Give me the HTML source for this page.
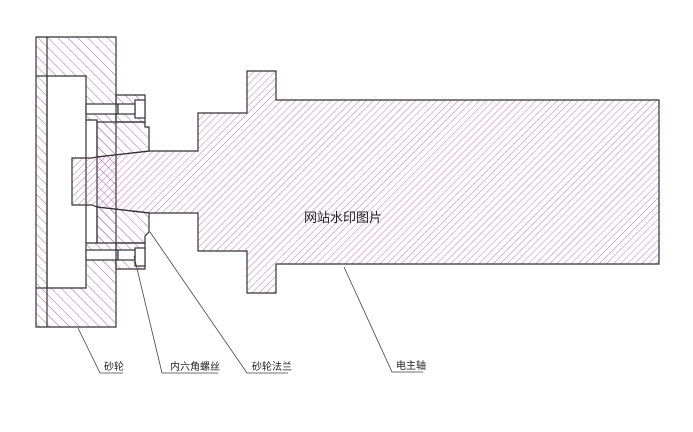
<!DOCTYPE html>
<html><head><meta charset="utf-8"><style>
html,body{margin:0;padding:0;background:#fff;}
svg{display:block;}
text{font-family:"Liberation Sans","Noto Sans CJK SC",sans-serif;fill:#222;}
</style></head><body>
<svg width="693" height="432" viewBox="0 0 693 432" xmlns="http://www.w3.org/2000/svg">
<defs>
<pattern id="hb" width="7" height="7" patternUnits="userSpaceOnUse" patternTransform="rotate(-45)">
<line x1="0" y1="0" x2="0" y2="7" stroke="#b050b8" stroke-width="0.9"/></pattern>
<pattern id="hf" width="5" height="5" patternUnits="userSpaceOnUse" patternTransform="rotate(45)">
<line x1="0" y1="0" x2="0" y2="5" stroke="#b050b8" stroke-width="0.8"/></pattern>
</defs>
<g stroke="#333" stroke-width="1.2" fill="none">
<path fill="url(#hb)" fill-rule="evenodd" d="M36,37 H116 V327 H36 Z M47,76 H86 V288 H47 Z M86,120 H97 V243 H86 Z"/>
<line x1="47" y1="37" x2="47" y2="327"/>
<line x1="36" y1="76" x2="47" y2="76"/>
<line x1="36" y1="288" x2="47" y2="288"/>
<rect x="86" y="104" width="32" height="10" fill="#fff"/>
<rect x="86" y="250" width="32" height="10" fill="#fff"/>
<path fill="url(#hb)" d="M116,95 H145 V122 H116 Z"/>
<path fill="url(#hb)" d="M116,243 H145 V269 H116 Z"/>
<rect x="135" y="100" width="10" height="18" fill="#fff"/>
<rect x="135" y="248" width="10" height="18" fill="#fff"/>
<rect x="118" y="104" width="17" height="10" fill="#fff"/>
<rect x="118" y="250" width="17" height="10" fill="#fff"/>
<path fill="url(#hb)" d="M97,122 H145 V127 H149 V151 L97,157 Z"/>
<path fill="url(#hb)" d="M97,207 L149,213 V232 L145,236 V243 H97 Z"/>
<path fill="url(#hf)" d="M72,158 L92,158 L97,157 L150,151 L198,151 L198,113 L247,113 L247,71 L276,71 L276,100 L659,100 L659,264 L276,264 L276,293 L247,293 L247,251 L198,251 L198,213 L150,213 L97,207 L92,205 L72,205 Z"/>
</g>
<text x="304" y="222" font-size="13">网站水印图片</text>
<g stroke="#444" stroke-width="0.8" fill="none">
<polyline points="78,328 100,373 123,373"/>
<polyline points="134,256 162,373 218,373"/>
<polyline points="150,232 247,373 288,373"/>
<polyline points="344,267 392,372 423,372"/>
</g>
<g font-size="10">
<text x="104" y="370">砂轮</text>
<text x="170" y="370">内六角螺丝</text>
<text x="252" y="370">砂轮法兰</text>
<text x="396" y="369">电主轴</text>
</g>
</svg>
</body></html>
